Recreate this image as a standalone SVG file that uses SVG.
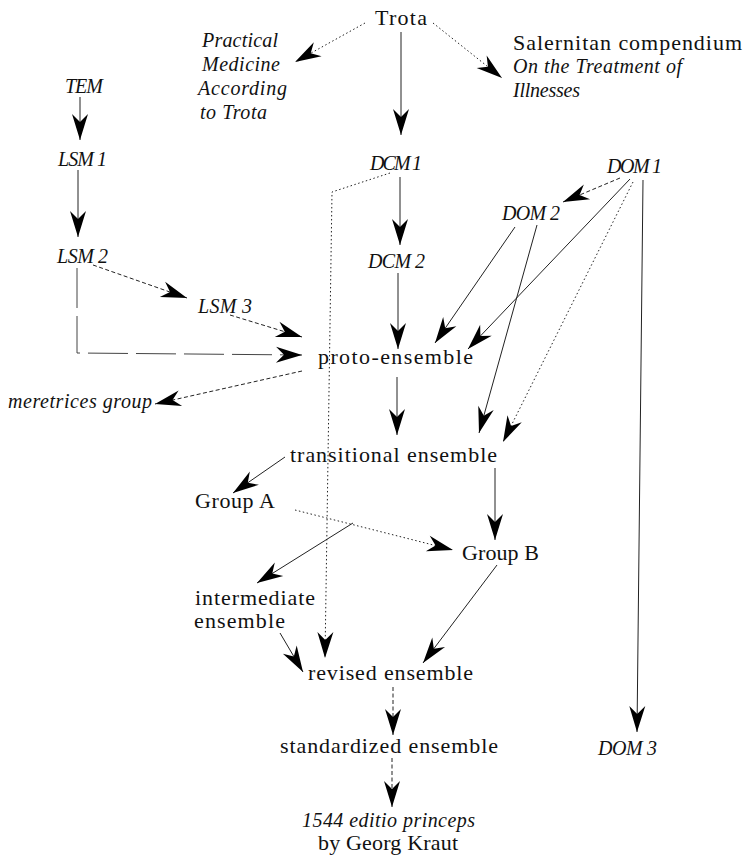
<svg xmlns="http://www.w3.org/2000/svg" width="750" height="859" viewBox="0 0 750 859">
<style>
text{font-family:"Liberation Serif","Times New Roman",serif;fill:#111}
.r{font-size:22px}
.i{font-size:20px;font-style:italic}
.c{fill:none;stroke:#222;stroke-width:1}
.dot{stroke-dasharray:1.5 2.5}
.dash{stroke-dasharray:4 2.5}
.long{stroke:#444;stroke-dasharray:40 8}
.a{marker-end:url(#ah)}
</style>
<defs>
<marker id="ah" markerUnits="userSpaceOnUse" orient="auto" overflow="visible" markerWidth="1" markerHeight="1">
<path d="M0,0 L-26,-8 L-18,0 L-26,8 Z" fill="#000" stroke="none"/>
</marker>
</defs>
<rect width="750" height="859" fill="#fff"/>
<g id="connectors">
<path class="c dot a" d="M365,23 L295,62"/>
<path class="c dot a" d="M433,23 L502,78"/>
<path class="c a" d="M401,32 L401,135"/>
<path class="c a" d="M80,97 L80,140"/>
<path class="c a" d="M78,170 L78,237"/>
<path class="c dash a" d="M93,265 L187,298"/>
<path class="c dash a" d="M230,315 L302,337"/>
<path class="c long a" d="M77,268 L77,353 L302,355"/>
<path class="c dash a" d="M302,371 L155,404"/>
<path class="c a" d="M400,177 L400,245"/>
<path class="c a" d="M398,273 L398,349"/>
<path class="c dot a" d="M390,173 L332,192 L325,658"/>
<path class="c dash a" d="M620,178 L563,202"/>
<path class="c a" d="M515,227 L435,343"/>
<path class="c a" d="M630,179 L468,349"/>
<path class="c a" d="M537,225 L479,433"/>
<path class="c dot a" d="M633,182 L503,442"/>
<path class="c a" d="M643,180 L637,732"/>
<path class="c a" d="M397,377 L397,435"/>
<path class="c a" d="M285,457 L233,493"/>
<path class="c dot a" d="M295,510 L453,550"/>
<path class="c a" d="M353,523 L257,583"/>
<path class="c a" d="M495,468 L495,540"/>
<path class="c a" d="M497,565 L423,663"/>
<path class="c a" d="M280,633 L303,672"/>
<path class="c dash a" d="M393,687 L393,735"/>
<path class="c dash a" d="M392,758 L392,807"/>
</g>
<g id="trota"><text class="r" x="375" y="25" textLength="52">Trota</text></g>
<g id="practical">
<text class="i" x="202" y="47" textLength="76">Practical</text>
<text class="i" x="202" y="71" textLength="78">Medicine</text>
<text class="i" x="198" y="95" textLength="89">According</text>
<text class="i" x="200" y="119" textLength="67">to Trota</text>
</g>
<g id="salernitan">
<text class="r" x="513" y="50" textLength="229">Salernitan compendium</text>
<text class="i" x="513" y="73" textLength="169">On the Treatment of</text>
<text class="i" x="513" y="97" textLength="67">Illnesses</text>
</g>
<g id="tem"><text class="i" x="65" y="93" textLength="38">TEM</text></g>
<g id="lsm1"><text class="i" x="58" y="166" textLength="49">LSM 1</text></g>
<g id="lsm2"><text class="i" x="57" y="263" textLength="51">LSM 2</text></g>
<g id="lsm3"><text class="i" x="198" y="313" textLength="54">LSM 3</text></g>
<g id="dcm1"><text class="i" x="370" y="170" textLength="52">DCM 1</text></g>
<g id="dcm2"><text class="i" x="368" y="268" textLength="57">DCM 2</text></g>
<g id="dom1"><text class="i" x="607" y="173" textLength="55">DOM 1</text></g>
<g id="dom2"><text class="i" x="502" y="220" textLength="58">DOM 2</text></g>
<g id="dom3"><text class="i" x="598" y="755" textLength="59">DOM 3</text></g>
<g id="proto"><text class="r" x="318" y="364" textLength="155">proto-ensemble</text></g>
<g id="meretrices"><text class="i" x="8" y="408" textLength="144">meretrices group</text></g>
<g id="transitional"><text class="r" x="290" y="462" textLength="207">transitional ensemble</text></g>
<g id="groupA"><text class="r" x="195" y="508" textLength="80">Group A</text></g>
<g id="groupB"><text class="r" x="462" y="560" textLength="77">Group B</text></g>
<g id="intermediate">
<text class="r" x="195" y="605" textLength="120">intermediate</text>
<text class="r" x="194" y="628" textLength="91">ensemble</text>
</g>
<g id="revised"><text class="r" x="308" y="680" textLength="165">revised ensemble</text></g>
<g id="standardized"><text class="r" x="280" y="753" textLength="218">standardized ensemble</text></g>
<g id="princeps">
<text class="i" x="302" y="827" textLength="173">1544 editio princeps</text>
<text class="r" x="318" y="850" textLength="140">by Georg Kraut</text>
</g>
</svg>
